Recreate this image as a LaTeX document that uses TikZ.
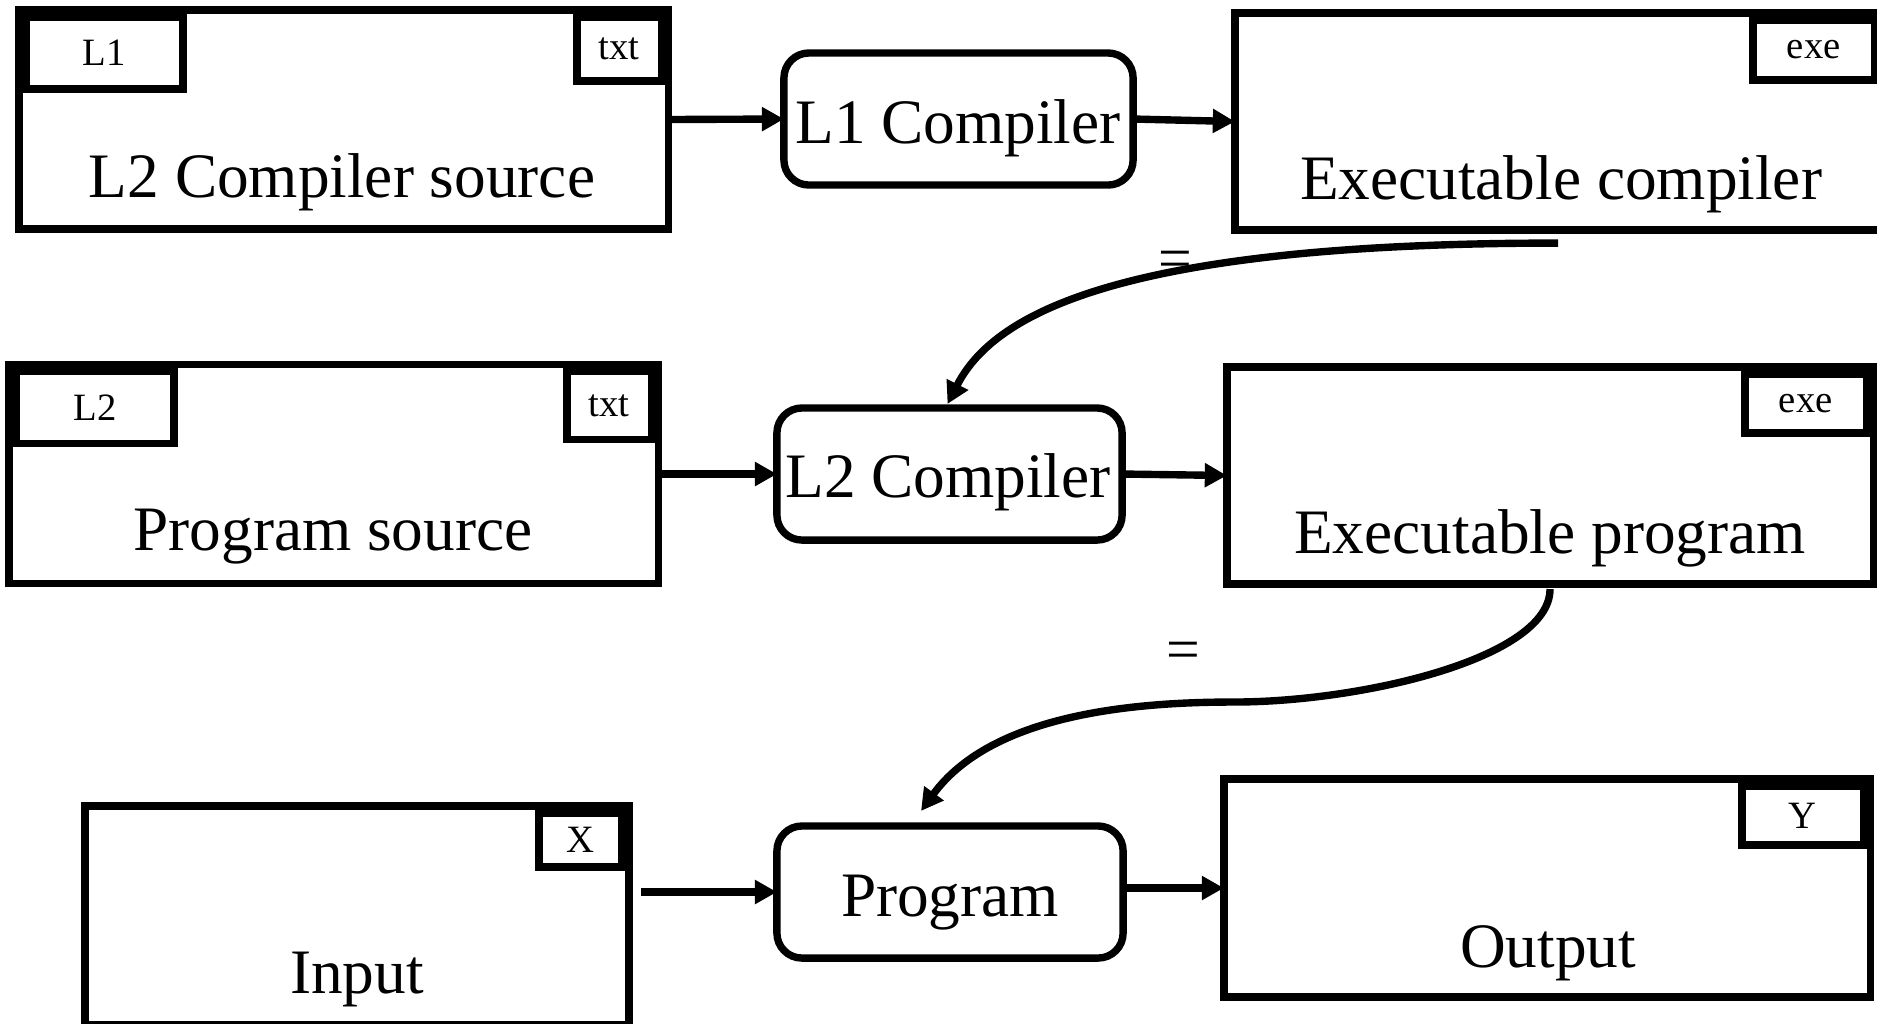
\documentclass[tikz,border=0pt]{standalone}
\usepackage{fontspec}
\setmainfont{Liberation Serif}
\usetikzlibrary{arrows.meta,calc}
\begin{document}
\begin{tikzpicture}[x=0.01cm,y=-0.01cm,
  lw/.style={line width=2.1pt},
  docbox/.style={draw,lw,inner sep=0pt,outer sep=0pt},
  tagbox/.style={draw,lw,inner sep=0pt,outer sep=0pt,anchor=north west,font=\fontsize{11}{13}\selectfont},
  tagboxr/.style={tagbox,anchor=north east},
  procbox/.style={draw,lw,rounded corners=0.25cm,inner sep=0pt,outer sep=0pt},
  maintext/.style={font=\fontsize{18}{20}\selectfont,inner sep=0pt,anchor=base},
  arr/.style={lw,-{Triangle[length=0.22cm,width=0.23cm]}},
  eqlabel/.style={font=\fontsize{17}{20}\selectfont,inner sep=0pt}
]
\useasboundingbox (0,0) rectangle (1877,1023);

% ---------- row 1 ----------
\node[docbox,minimum width=6.49cm,minimum height=2.19cm] (A) at (343.5,119.5) {};
\node[tagbox,minimum width=1.57cm,minimum height=0.72cm] (Atag) at ($(A.north west)+(7,7)$) {L1};
\node[tagboxr,minimum width=0.84cm,minimum height=0.64cm] (Atype) at ($(A.north east)+(-7,7)$) {txt};
\node[maintext] (Atext) at (342,197) {L2 Compiler source};

\node[procbox,minimum width=3.49cm,minimum height=1.32cm] (L1C) at (958.5,119) {};
\node[maintext] (L1Ctext) at (958,143) {L1 Compiler};

\node[docbox,minimum width=6.46cm,minimum height=2.17cm] (C) at (1558,121.5) {};
\node[tagboxr,minimum width=1.21cm,minimum height=0.60cm] (Ctype) at ($(C.north east)+(-7,7)$) {exe};
\node[maintext] (Ctext) at (1561,199) {Executable compiler};

% ---------- row 2 ----------
\node[docbox,minimum width=6.49cm,minimum height=2.19cm] (D) at (333.5,474) {};
\node[tagbox,minimum width=1.58cm,minimum height=0.72cm] (Dtag) at ($(D.north west)+(7,7)$) {L2};
\node[tagboxr,minimum width=0.84cm,minimum height=0.68cm] (Dtype) at ($(D.north east)+(-7,7)$) {txt};
\node[maintext] (Dtext) at (333,550) {Program source};

\node[procbox,minimum width=3.45cm,minimum height=1.32cm] (L2C) at (949.5,474) {};
\node[maintext] (L2Ctext) at (948,497) {L2 Compiler};

\node[docbox,minimum width=6.46cm,minimum height=2.17cm] (F) at (1550,475.5) {};
\node[tagboxr,minimum width=1.21cm,minimum height=0.59cm] (Ftype) at ($(F.north east)+(-7,7)$) {exe};
\node[maintext] (Ftext) at (1550,553) {Executable program};

% ---------- row 3 ----------
\node[docbox,minimum width=5.44cm,minimum height=2.19cm] (G) at (357,915.5) {};
\node[tagboxr,minimum width=0.83cm,minimum height=0.54cm] (Gtype) at ($(G.north east)+(-7,7)$) {X};
\node[maintext] (Gtext) at (357,993) {Input};

\node[procbox,minimum width=3.46cm,minimum height=1.32cm] (P) at (950,892) {};
\node[maintext] (Ptext) at (950,916) {Program};

\node[docbox,minimum width=6.46cm,minimum height=2.18cm] (I) at (1547,888) {};
\node[tagboxr,minimum width=1.21cm,minimum height=0.59cm] (Itype) at ($(I.north east)+(-7,7)$) {Y};
\node[maintext] (Itext) at (1548,967) {Output};

% ---------- straight connectors ----------
\draw[arr] (A.east) -- (L1C.west);
\draw[arr] (L1C.east) -- (C.west);
\draw[arr] (D.east) -- (L2C.west);
\draw[arr] (L2C.east) -- (F.west);
\draw[arr,shorten <=0.12cm] (G.east |- P.west) -- (P.west);
\draw[arr] (P.east |- I.west) -- (I.west);

% ---------- curved connectors ----------
\coordinate (c1) at ($(C.south)+(0,13)$);
\coordinate (t1) at ($(L2C.north)+(-2,-4)$);
\draw[arr] (c1) .. controls ($(c1)+(-450,0)$) and ($(t1)+(44,-86)$) .. (t1);
\node[eqlabel] (eq1) at (1175,265) {=};

\coordinate (c2) at ($(F.south)+(0,5)$);
\coordinate (m2) at (1234,702);
\coordinate (t2) at ($(P.north)+(-29,-15)$);
\draw[arr] (c2) .. controls ($(c2)+(0,69)$) and ($(m2)+(128,0)$) .. (m2)
  .. controls ($(m2)+(-100,0)$) and ($(t2)+(71,-97)$) .. (t2);
\node[eqlabel] (eq2) at (1183,656) {=};
\end{tikzpicture}
\end{document}
